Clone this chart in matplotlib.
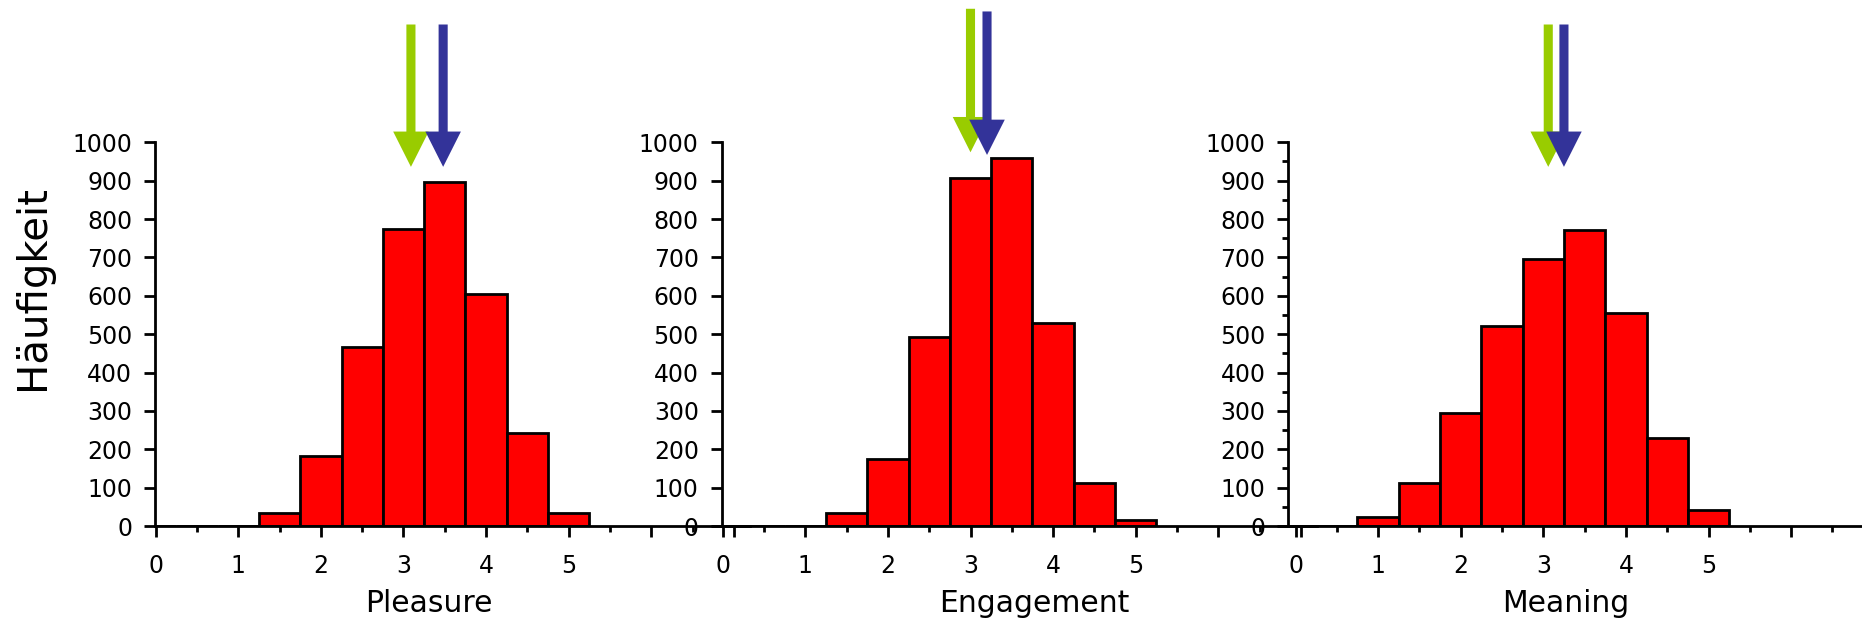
"""Histogramme der drei Skalen (Pleasure, Engagement, Meaning) mit Mittelwert-Pfeilen."""

import matplotlib
matplotlib.use("Agg")
import matplotlib.pyplot as plt
import matplotlib.transforms as mtransforms
from matplotlib.ticker import FixedLocator, MultipleLocator

plt.rcParams["font.family"] = ["DejaVu Sans"]

# Klassenmitten (Breite 0.5) und Häufigkeiten je Skala
bin_centers = [0.0, 0.5, 1.0, 1.5, 2.0, 2.5, 3.0, 3.5, 4.0, 4.5, 5.0]
pleasure_counts = [0, 0, 0, 35, 182, 466, 773, 896, 604, 243, 34]
engagement_counts = [0, 0, 0, 35, 175, 493, 908, 959, 528, 112, 15]
meaning_counts = [0, 0, 23, 112, 294, 521, 695, 772, 556, 230, 43]

scale_names = ["Pleasure", "Engagement", "Meaning"]
all_counts = [pleasure_counts, engagement_counts, meaning_counts]

# Mittelwerte der beiden Gruppen (grün / blau)
green_means = [3.09, 3.0, 3.06]
blue_means = [3.48, 3.2, 3.25]

x_major = [0, 1, 2, 3, 4, 5, 6, 7]
x_labels = ["0", "1", "2", "3", "4", "5", "", ""]
y_ticks = [0, 100, 200, 300, 400, 500, 600, 700, 800, 900, 1000]

GREEN = "#99cc00"
BLUE = "#333399"
RED = "#ff0000"

# Layout in Pixeln (Bildgröße 1862 x 622)
W, H = 1862, 622
px_per_unit = 82.6
y0_px, y1000_px = 526.0, 142.3
zero_px = [155.7, 722.7, 1295.5]
spine_px = [155.0, 721.7, 1288.3]
right_px = [750.4, 1317.4, 1862.0]
label_x = [3.31, 3.77, 3.27]
# Pfeile: (oberes Ende, Spitze) in Datenkoordinaten
green_arrow = [(1307, 936), (1348, 974), (1307, 936)]
blue_arrow = [(1307, 936), (1341, 967), (1307, 936)]

fig = plt.figure(figsize=(W / 100, H / 100), dpi=100)

for i, (name, counts) in enumerate(zip(scale_names, all_counts)):
    left, right = spine_px[i], right_px[i]
    ax = fig.add_axes([left / W, 1 - y0_px / H, (right - left) / W,
                       (y0_px - y1000_px) / H])
    ax.patch.set_visible(False)
    ax.set_xlim((left - zero_px[i]) / px_per_unit,
                (right - zero_px[i]) / px_per_unit)
    ax.set_ylim(0, 1000)

    ax.bar(bin_centers, counts, width=0.5, color=RED, edgecolor="black",
           linewidth=2, zorder=2)

    ax.xaxis.set_major_locator(FixedLocator(x_major))
    ax.set_xticklabels(x_labels)
    ax.xaxis.set_minor_locator(MultipleLocator(0.5))
    ax.set_yticks(y_ticks)
    ax.set_yticklabels([str(v) for v in y_ticks])
    if i == 2:
        ax.yaxis.set_minor_locator(MultipleLocator(50))

    for side in ("top", "right"):
        ax.spines[side].set_visible(False)
    for side in ("left", "bottom"):
        ax.spines[side].set_linewidth(2)
        ax.spines[side].set_zorder(3)

    ax.tick_params(axis="both", which="major", direction="out", length=8,
                   width=2, labelsize=17)
    ax.tick_params(axis="x", which="major", pad=12.5)
    ax.tick_params(axis="y", which="major", pad=8.5)
    ax.tick_params(axis="both", which="minor", direction="out", length=4,
                   width=2)

    for mean, color, (top, tip) in ((green_means[i], GREEN, green_arrow[i]),
                                    (blue_means[i], BLUE, blue_arrow[i])):
        ax.arrow(mean, top, 0, tip - top, width=0.11, head_width=0.43,
                 head_length=92, length_includes_head=True, facecolor=color,
                 edgecolor="none", clip_on=False, zorder=5)

    trans = mtransforms.blended_transform_factory(ax.transData, ax.transAxes)
    ax.text(label_x[i], -0.224, name, transform=trans, ha="center",
            va="baseline", fontsize=21.5)

fig.text(33 / W, 1 - 288 / H, "Häu\ufb01gkeit", rotation=90,
         ha="center", va="center", fontsize=29)

fig.savefig("out.png", dpi=100)
plt.close(fig)
